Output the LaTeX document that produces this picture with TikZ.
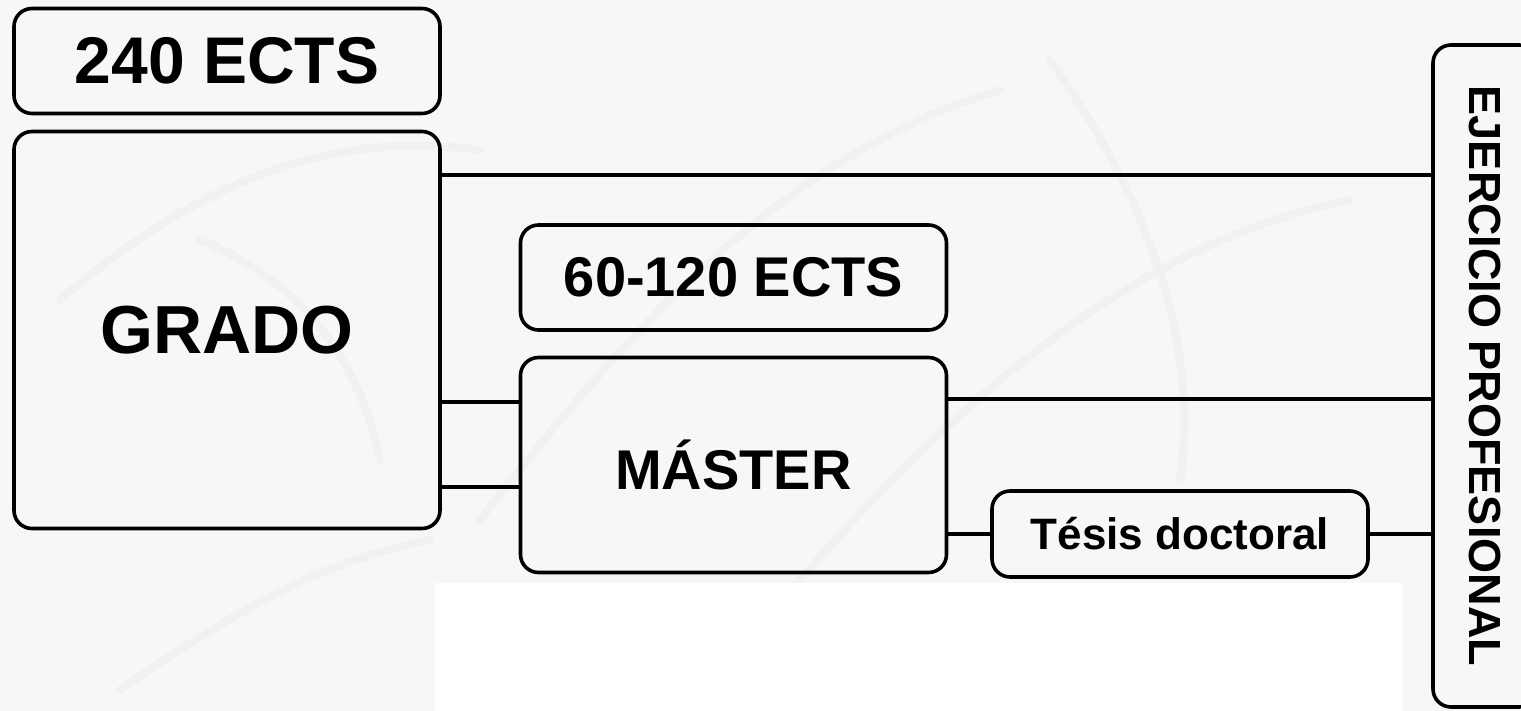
\documentclass[tikz,border=0pt]{standalone}
\usepackage{fontspec}
\setmainfont{Liberation Sans}
\definecolor{bgc}{RGB}{248,247,246}
\definecolor{swirl}{RGB}{242,241,239}
\tikzset{
  boxstyle/.style={draw=black, line width=3.6pt, rounded corners=18pt, fill=none, inner sep=0pt, align=center, font=\bfseries},
  conn/.style={draw=black, line width=3.2pt},
}
\begin{document}
\begin{tikzpicture}[x=1pt,y=-1pt]
\useasboundingbox (0,0) rectangle (1521,711);
\clip (0,0) rectangle (1521,711);
\fill[bgc] (0,0) rectangle (1521,711);
% faint watermark swirls
\begin{scope}[draw=swirl, line width=8pt, line cap=round]
\draw (60,300) .. controls (200,180) and (330,130) .. (480,150);
\draw (480,520) .. controls (650,300) and (800,150) .. (1000,90);
\draw (700,700) .. controls (900,450) and (1100,250) .. (1350,200);
\draw (1050,60) .. controls (1150,200) and (1200,350) .. (1180,480);
\draw (120,690) .. controls (250,600) and (330,560) .. (430,540);
\draw (200,240) .. controls (300,280) and (360,360) .. (380,460);
\end{scope}
\fill[white] (435,583) rectangle (1403,711);
% nodes
\node[boxstyle, minimum width=426pt, minimum height=105pt, font=\bfseries\fontsize{66}{66}\selectfont] (e240) at (227,61) {240 ECTS};
\node[boxstyle, minimum width=426pt, minimum height=397pt, font=\bfseries\fontsize{68}{68}\selectfont] (grado) at (227,330) {GRADO};
\node[boxstyle, minimum width=426pt, minimum height=105pt, font=\bfseries\fontsize{56}{56}\selectfont] (e60) at (733.5,277.5) {60-120 ECTS};
\node[boxstyle, minimum width=426pt, minimum height=215pt, font=\bfseries\fontsize{56}{56}\selectfont] (master) at (733.5,465) {MÁSTER};
\node[boxstyle, minimum width=376pt, minimum height=86pt, font=\bfseries\fontsize{44}{44}\selectfont] (tesis) at (1180,534) {Tésis doctoral};
\node[boxstyle, minimum width=104pt, minimum height=662pt] (ej) at (1485,376) {};
\node[rotate=-90, inner sep=0pt, font=\bfseries\fontsize{45}{45}\selectfont] (ejtext) at (ej.center) {EJERCICIO PROFESIONAL};
% connectors
\draw[conn] (grado.east |- 0,175) -- (ej.west |- 0,175);
\draw[conn] (grado.east |- 0,402) -- (master.west |- 0,402);
\draw[conn] (grado.east |- 0,487) -- (master.west |- 0,487);
\draw[conn] (master.east |- 0,399) -- (ej.west |- 0,399);
\draw[conn] (master.east |- 0,534) -- (tesis.west);
\draw[conn] (tesis.east) -- (ej.west |- 0,534);
\end{tikzpicture}
\end{document}
